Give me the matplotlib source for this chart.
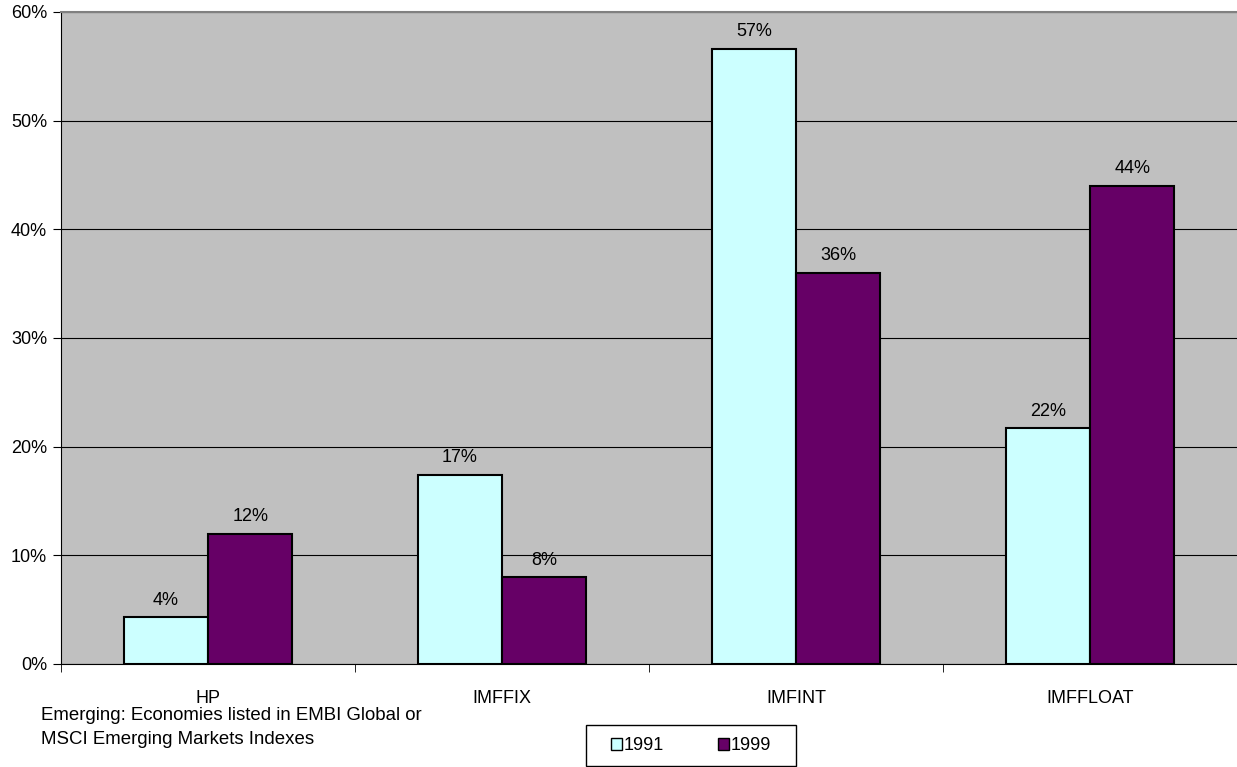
import matplotlib
matplotlib.use("Agg")
import matplotlib.pyplot as plt
from matplotlib.patches import Patch, Rectangle
import numpy as np

categories = ["HP", "IMFFIX", "IMFINT", "IMFFLOAT"]
vals_1991 = [4.3, 17.4, 56.6, 21.7]
vals_1999 = [12.0, 8.0, 36.0, 44.0]
labels_1991 = ["4%", "17%", "57%", "22%"]
labels_1999 = ["12%", "8%", "36%", "44%"]
series_names = ["1991", "1999"]
yticks = [0, 10, 20, 30, 40, 50, 60]

plt.rcParams['font.family'] = ['Liberation Sans', 'DejaVu Sans']
FS = 13

fig = plt.figure(figsize=(12.37, 7.67), dpi=100)
ax = fig.add_axes([61/1237, 103/767, 1 - 61/1237, (664-12)/767])
ax.set_facecolor('#C0C0C0')

x = np.arange(len(categories))
w = 0.287
c1, c2 = '#CCFFFF', '#660066'
ax.bar(x - w/2, vals_1991, w, color=c1, edgecolor='black', linewidth=1.5, zorder=3)
ax.bar(x + w/2, vals_1999, w, color=c2, edgecolor='black', linewidth=1.5, zorder=3)
for xi, v, l in zip(x - w/2, vals_1991, labels_1991):
    ax.text(xi, v + 0.78, l, ha='center', va='bottom', fontsize=FS)
for xi, v, l in zip(x + w/2, vals_1999, labels_1999):
    ax.text(xi, v + 0.78, l, ha='center', va='bottom', fontsize=FS)

ax.set_xlim(-0.5, len(categories) - 0.5)
ax.set_ylim(0, 60)
ax.set_yticks(yticks)
ax.set_yticklabels([f"{t}%" for t in yticks], fontsize=FS)
ax.yaxis.grid(True, color='black', linewidth=0.8, zorder=1)
ax.set_axisbelow(True)

ax.set_xticks(x)
ax.set_xticklabels(categories, fontsize=FS)
ax.tick_params(axis='x', which='major', length=0, pad=18.5)
ax.set_xticks(np.arange(-0.5, len(categories), 1), minor=True)
ax.tick_params(axis='x', which='minor', length=6, direction='out', color='black')
ax.tick_params(axis='y', length=6, direction='out', pad=4)

ax.spines['right'].set_visible(False)
ax.spines['top'].set_color('#808080')
ax.spines['top'].set_linewidth(1.5)
ax.spines['left'].set_color('black')
ax.spines['bottom'].set_color('black')

fig.text(41/1237, 1 - 716/767, "Emerging: Economies listed in EMBI Global or", fontsize=13.4, va='center', ha='left')
fig.text(41/1237, 1 - 740/767, "MSCI Emerging Markets Indexes", fontsize=13.4, va='center', ha='left')

handles = [Patch(facecolor=c1, edgecolor='black'), Patch(facecolor=c2, edgecolor='black')]
leg = fig.legend(handles, series_names, loc='center', bbox_to_anchor=(691/1237, 1 - 746/767),
                 ncol=2, fontsize=FS, frameon=False, handlelength=0.6,
                 handleheight=0.6, handletextpad=0.1, columnspacing=3.0, borderpad=0.6)
fig.add_artist(Rectangle((586/1237, 1 - 766/767), (796-586)/1237, (766-725)/767,
                         transform=fig.transFigure, fill=False, edgecolor='black', linewidth=1))

fig.savefig('out.png', dpi=100)
